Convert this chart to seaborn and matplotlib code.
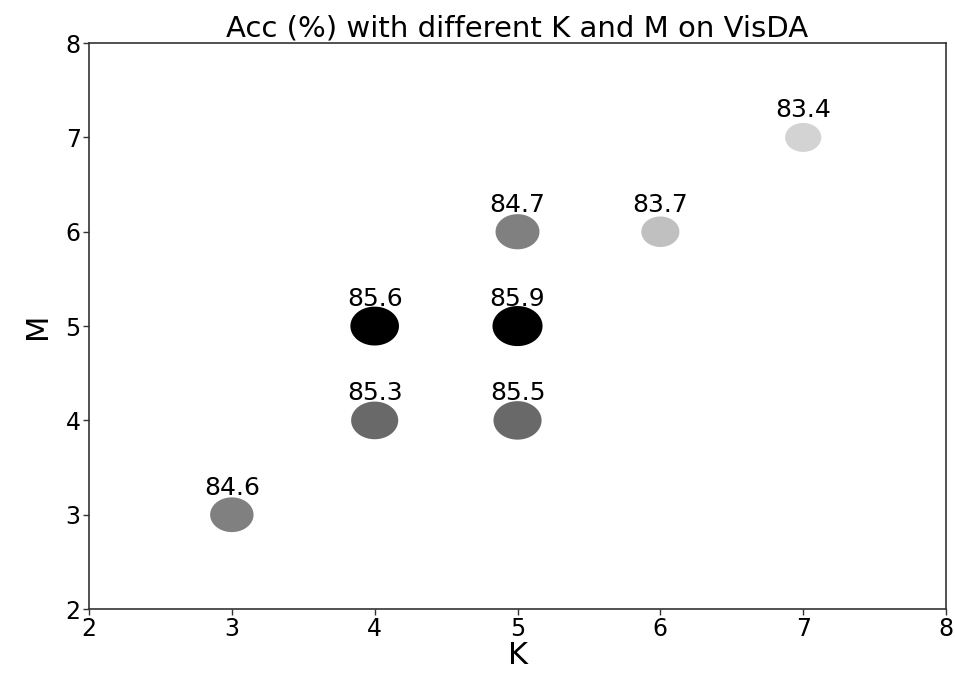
import numpy as np
import pandas as pd
import matplotlib
matplotlib.use("Agg")
import matplotlib.pyplot as plt
from matplotlib.path import Path
import seaborn as sns

# accuracy (%) for each (K, M) setting
K = [3, 4, 5, 4, 5, 5, 6, 7]
M = [3, 4, 4, 5, 5, 6, 6, 7]
acc = [84.6, 85.3, 85.5, 85.6, 85.9, 84.7, 83.7, 83.4]
ticks = [2, 3, 4, 5, 6, 7, 8]

# shade per accuracy value
shade = {84.6: "gray", 85.3: "dimgray", 85.5: "dimgray", 85.6: "black",
         85.9: "black", 84.7: "gray", 83.7: "silver", 83.4: "lightgray"}

df = pd.DataFrame({"K": K, "M": M, "acc": acc})

sns.set_theme(style="ticks")
plt.rcParams["font.family"] = ["DejaVu Sans"]
plt.rcParams["text.color"] = "black"
plt.rcParams["axes.labelcolor"] = "black"
plt.rcParams["xtick.color"] = "black"
plt.rcParams["ytick.color"] = "black"

fig = plt.figure(figsize=(9.55, 6.73), dpi=100)
ax = fig.add_axes([0.0932, 0.095, 0.8974, 0.841])

# slightly wide elliptical marker
theta = np.linspace(0, 2 * np.pi, 73)
ell = Path(np.column_stack([1.25 * np.cos(theta), np.sin(theta)]), closed=True)

sns.scatterplot(data=df, x="K", y="M", hue="acc", palette=shade,
                size="acc", sizes=(680, 1300), marker=ell,
                linewidth=0, legend=False, ax=ax, zorder=3)

for k, m, a in zip(K, M, acc):
    ax.text(k, m + 0.16, f"{a}", ha="center", va="bottom",
            fontsize=18, color="black", zorder=4)

ax.set_xlim(ticks[0], ticks[-1])
ax.set_ylim(ticks[0], ticks[-1])
ax.set_xticks(ticks)
ax.set_yticks(ticks)
ax.tick_params(labelsize=17, length=4, width=1, color="#333333", pad=2)
for s in ax.spines.values():
    s.set_color("#333333")
    s.set_linewidth(1.2)
ax.set_xlabel("K", fontsize=22, labelpad=0)
ax.set_ylabel("M", fontsize=22, labelpad=10)
ax.set_title("Acc (%) with different K and M on VisDA", fontsize=21, pad=5)

fig.savefig("out.png", dpi=100, facecolor="white")
